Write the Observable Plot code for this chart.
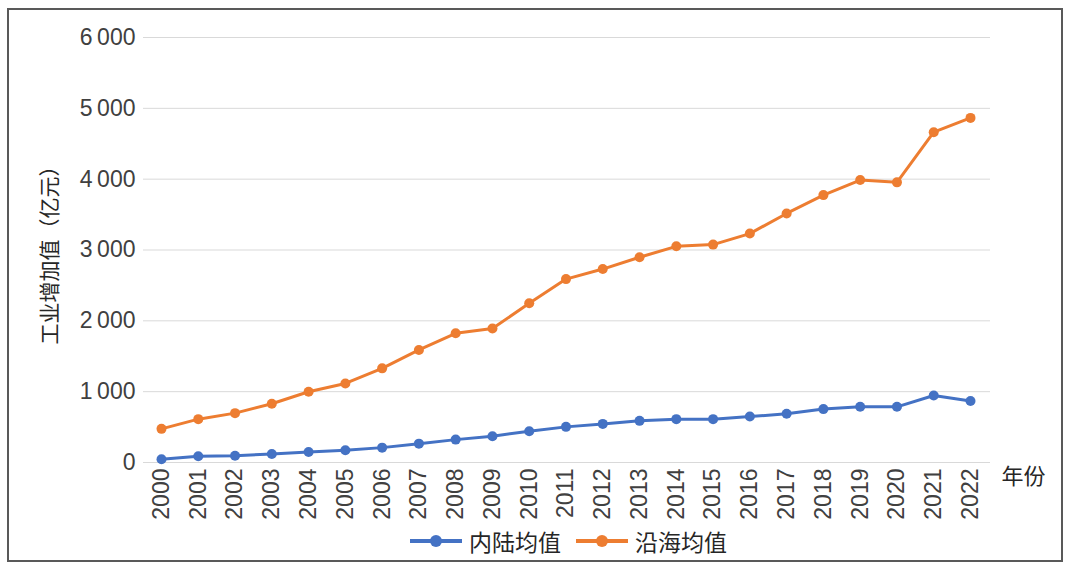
<!DOCTYPE html>
<html>
<head>
<meta charset="utf-8">
<script src="https://cdn.jsdelivr.net/npm/d3@7"></script>
<script src="https://cdn.jsdelivr.net/npm/@observablehq/plot@0.6"></script>
<style>
  html, body { margin: 0; padding: 0; background: #fff; }
  #wrap { position: relative; width: 1068px; height: 568px; overflow: hidden;
          font-family: "Liberation Sans", "Noto Sans CJK SC", sans-serif; }
  #frame { position: absolute; left: 7px; top: 8px; width: 1052px; height: 550px;
           border: 2px solid #595959; box-sizing: content-box; }
  #chart { position: absolute; left: 0; top: 0; }
  #legend { position: absolute; left: 0; top: 524px; width: 1068px; display: flex;
            justify-content: center; align-items: center; font-size: 23px; color: #262626;
            font-family: "Noto Sans CJK SC", sans-serif; padding-left: 68px; box-sizing: border-box; }
  .item { display: flex; align-items: center; margin: 0 7px; }
  .item svg { margin-right: 6px; }
</style>
</head>
<body>
<div id="wrap">
  <div id="frame"></div>
  <div id="chart"></div>
  <div id="legend"></div>
</div>
<script>
const years = [2000, 2001, 2002, 2003, 2004, 2005, 2006, 2007, 2008, 2009, 2010,
               2011, 2012, 2013, 2014, 2015, 2016, 2017, 2018, 2019, 2020, 2021, 2022];
const inland = [45, 88, 96, 120, 149, 173, 210, 266, 323, 371, 442,
                503, 545, 588, 612, 612, 649, 687, 754, 786, 786, 946, 867];
const coastal = [475, 612, 697, 829, 999, 1116, 1329, 1589, 1824, 1891, 2249,
                 2589, 2731, 2897, 3052, 3076, 3232, 3516, 3775, 3987, 3955, 4663, 4865];
const seriesNames = ["内陆均值", "沿海均值"];
const seriesColors = ["#4472C4", "#ED7D31"];
const yTicks = [0, 1000, 2000, 3000, 4000, 5000, 6000];
const yTitle = "工业增加值（亿元）";
const xTitle = "年份";

const data = [];
years.forEach((y, i) => {
  data.push({year: y, value: inland[i], series: seriesNames[0]});
  data.push({year: y, value: coastal[i], series: seriesNames[1]});
});

const fmt = d => d === 0 ? "0" : String(d).replace(/(\d)(\d{3})$/, "$1\u2009$2");
const cjk = "\"Noto Sans CJK SC\", sans-serif";

const chart = Plot.plot({
  width: 1068,
  height: 520,
  marginLeft: 143,
  marginRight: 78,
  marginTop: 37,
  marginBottom: 58,
  style: {fontFamily: "\"Liberation Sans\", \"Noto Sans CJK SC\", sans-serif", fontSize: "23px",
          color: "#404040", background: "transparent", overflow: "visible"},
  x: {type: "point", domain: years, range: [161, 970], padding: 0, round: false},
  y: {domain: [0, 6000]},
  color: {domain: seriesNames, range: seriesColors},
  marks: [
    Plot.ruleY(yTicks, {stroke: "#d9d9d9", strokeWidth: 1}),
    Plot.axisY({ticks: yTicks, tickSize: 0, tickPadding: 8, tickFormat: fmt, label: null, fontSize: 23}),
    Plot.axisX({tickSize: 0, tickRotate: -90, tickPadding: 6, tickFormat: d => String(d), label: null, fontSize: 23}),
    Plot.line(data, {x: "year", y: "value", stroke: "series", strokeWidth: 3}),
    Plot.dot(data, {x: "year", y: "value", fill: "series", r: 5}),
    Plot.text([yTitle], {frameAnchor: "left", textAnchor: "middle", dx: -93, rotate: -90, fontSize: 21, fontFamily: cjk, fill: "#262626"}),
    Plot.text([xTitle], {frameAnchor: "bottom-right", dx: 11, dy: 21, textAnchor: "start", fontSize: 22, fontFamily: cjk, fill: "#262626"})
  ]
});
document.getElementById("chart").appendChild(chart);

const legend = document.getElementById("legend");
seriesNames.forEach((name, i) => {
  const item = document.createElement("div");
  item.className = "item";
  item.innerHTML = `<svg width="54" height="14"><line x1="1" y1="7" x2="53" y2="7" stroke="${seriesColors[i]}" stroke-width="4"/><circle cx="27" cy="7" r="6" fill="${seriesColors[i]}"/></svg><span>${name}</span>`;
  legend.appendChild(item);
});
</script>
</body>
</html>
